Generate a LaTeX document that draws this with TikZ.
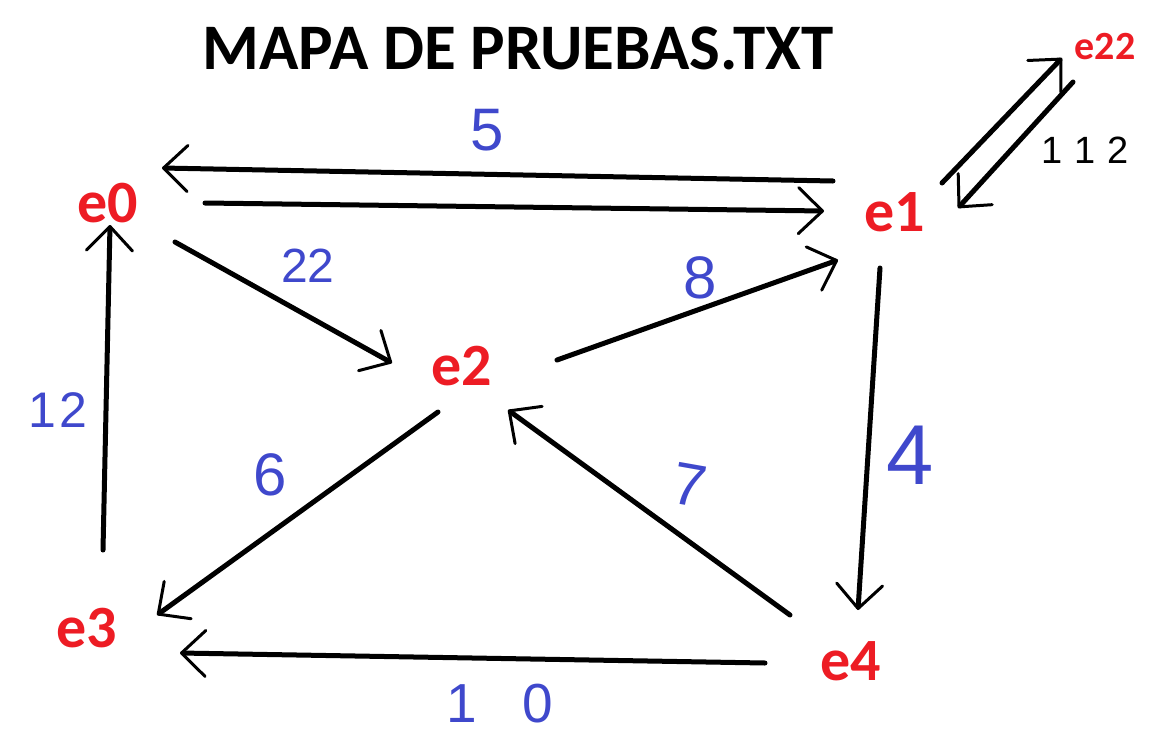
\documentclass[tikz,border=0pt]{standalone}
\usepackage{fontspec}
\setmainfont{Carlito}
\newfontfamily\handfont{Liberation Sans}
\usetikzlibrary{arrows.meta}
\definecolor{paintred}{RGB}{237,28,36}
\definecolor{paintblue}{RGB}{63,72,204}

\begin{document}
\begin{tikzpicture}[x=1pt,y=-1pt,
  state/.style={text=paintred, font=\bfseries\fontsize{60}{60}\selectfont, inner sep=0pt},
  edge/.style={line width=5pt, line cap=round,
    -{Straight Barb[length=24pt,width=46pt,line width=3pt,round]}},
  weight/.style={text=paintblue, font=\handfont\fontsize{60}{60}\selectfont, inner sep=0pt}]

\useasboundingbox (0,0) rectangle (1171,737);

% Title
\node[font=\bfseries\fontsize{65}{65}\selectfont, inner sep=0pt] (title) at (518,48) {MAPA DE PRUEBAS.TXT};

% States
\node[state] (e0) at (108,203) {e0};
\node[state] (e1) at (895,212) {e1};
\node[state] (e2) at (462,366) {e2};
\node[state] (e3) at (87,628) {e3};
\node[state] (e4) at (851,661) {e4};
\node[state, font=\bfseries\fontsize{40}{40}\selectfont] (e22) at (1105,47) {e22};

% Transitions
\draw[edge] ([shift={(-62,-31)}]e1.center) -- ([shift={(54,-35)}]e0.center);
\draw[edge] ([shift={(97,0)}]e0.center) -- ([shift={(-71,-1)}]e1.center);
\draw[edge] ([shift={(67,39)}]e0.center) -- ([shift={(-70,-3)}]e2.center);
\draw[edge] ([shift={(95,-6)}]e2.center) -- ([shift={(-57,48)}]e1.center);
\draw[edge] ([shift={(-15,56)}]e1.center) -- ([shift={(7,-51)}]e4.center);
\draw[edge] ([shift={(-61,-46)}]e4.center) -- ([shift={(46,44)}]e2.center);
\draw[edge] ([shift={(-24,46)}]e2.center) -- ([shift={(70,-13)}]e3.center);
\draw[edge] ([shift={(-86,2)}]e4.center) -- ([shift={(93,25)}]e3.center);
\draw[edge] ([shift={(16,-78)}]e3.center) -- ([shift={(2,22)}]e0.center);
\draw[edge] ([shift={(47,-29)}]e1.center) -- ([shift={(-43,11)}]e22.center);
\draw[edge] ([shift={(-32,35)}]e22.center) -- ([shift={(63,-4)}]e1.center);

% Weights
\node[weight, font=\handfont\fontsize{48}{48}\selectfont] (w22) at (308,266) {22};
\node[weight] (w5) at (487,130) {5};
\node[weight] (w8) at (700,278) {8};
\node[weight, font=\handfont\fontsize{85}{85}\selectfont] (w4) at (910,455) {4};
\node[weight, rotate=-10] (w7) at (690,485) {7};
\node[weight] (w6) at (270,475) {6};
\node[weight, font=\handfont\fontsize{55}{55}\selectfont] (w10) at (500,704) {1\hspace{45pt}0};
\node[weight, font=\handfont\fontsize{50}{50}\selectfont] (w12) at (58,410) {1\hspace{4pt}2};
\node[font=\handfont\fontsize{38}{38}\selectfont, inner sep=0pt] (w112) at (1085,150) {1\hspace{12pt}1\hspace{12pt}2};

\end{tikzpicture}
\end{document}
